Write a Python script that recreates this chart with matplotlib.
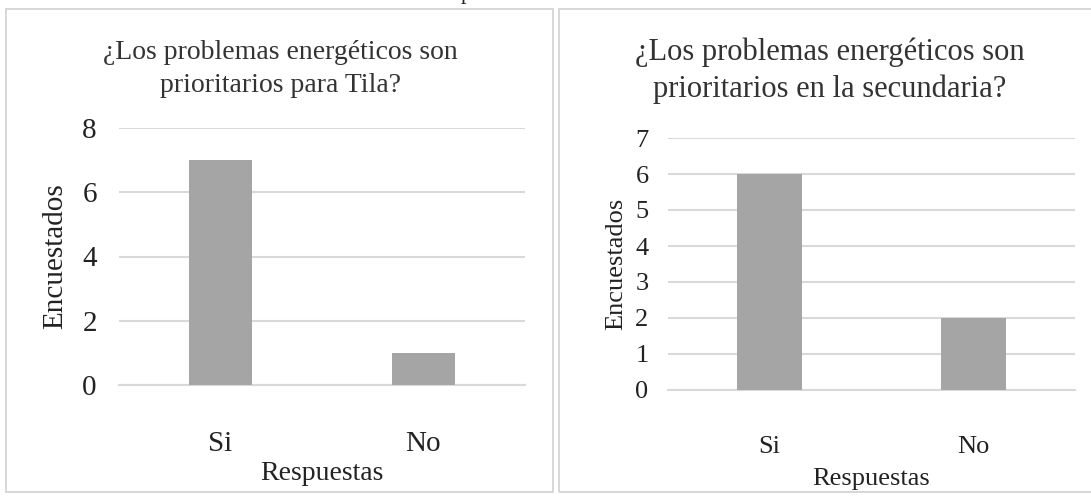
import matplotlib.pyplot as plt
from matplotlib.patches import Rectangle

plt.rcParams['font.family'] = ['Liberation Serif', 'DejaVu Serif']

W, H = 1091, 501

# Datos de las dos encuestas
categorias = ['Si', 'No']
tila = [7, 1]
secundaria = [6, 2]

titulo_tila = '¿Los problemas energéticos son\nprioritarios para Tila?'
titulo_sec = '¿Los problemas energéticos son\nprioritarios en la secundaria?'

bar_color = '#a5a5a5'
grid_color = '#d9d9d9'
text_color = '#333333'


def px_axes(fig, x0, x1, ytop, ybot):
    # rectangulo en pixeles (origen arriba a la izquierda)
    return fig.add_axes([x0 / W, (H - ybot) / H, (x1 - x0) / W, (ybot - ytop) / H])


def barras(ax, valores, ymax, ancho, fs_tick, pad_x, pad_y):
    ax.bar(categorias, valores, width=ancho, color=bar_color, zorder=3)
    ax.set_xlim(-0.5, 1.5)
    ax.set_ylim(0, ymax)
    ax.yaxis.grid(True, color=grid_color, linewidth=1.5, zorder=0)
    for s in ['top', 'right', 'left']:
        ax.spines[s].set_visible(False)
    ax.spines['bottom'].set_color(grid_color)
    ax.spines['bottom'].set_linewidth(1.5)
    ax.tick_params(axis='both', length=0, labelsize=fs_tick, colors='#222222')
    ax.tick_params(axis='x', pad=pad_x)
    ax.tick_params(axis='y', pad=pad_y)


fig = plt.figure(figsize=(W / 100, H / 100), dpi=100)

# marcos de cada grafico
fig.patches.append(Rectangle((6 / W, (H - 492) / H), 547 / W, 483 / H,
                             transform=fig.transFigure, fill=False,
                             edgecolor='#d4d4d4', linewidth=1.3))
fig.patches.append(Rectangle((559 / W, (H - 492) / H), 540 / W, 483 / H,
                             transform=fig.transFigure, fill=False,
                             edgecolor='#d4d4d4', linewidth=1.3))

# resto de una linea de texto cortada arriba
fig.text(466 / W, 1 + 1 / H, 'p', fontsize=16, ha='center', va='baseline',
         color='#222222')

# grafico de Tila
ax1 = px_axes(fig, 119, 525, 128, 385)
barras(ax1, tila, 8, 0.315, 21, 33, 16)
ax1.set_yticks([0, 2, 4, 6, 8])
ax1.set_ylabel('Encuestados', fontsize=21, color='#222222', labelpad=10)
ax1.set_xlabel('Respuestas', fontsize=20, color='#222222', labelpad=3)
fig.text(280 / W, 1 - 69 / H, titulo_tila, fontsize=20, ha='center',
         va='center', color=text_color, linespacing=1.4)

# grafico de la secundaria
ax2 = px_axes(fig, 668, 1075, 138, 390)
barras(ax2, secundaria, 7, 0.32, 19, 33, 14)
ax2.set_yticks(range(0, 8))
ax2.set_ylabel('Encuestados', fontsize=19, color='#222222', labelpad=6)
ax2.set_xlabel('Respuestas', fontsize=19, color='#222222', labelpad=7)
fig.text(830 / W, 1 - 71 / H, titulo_sec, fontsize=22, ha='center',
         va='center', color=text_color, linespacing=1.35)

fig.savefig('out.png', dpi=100)
